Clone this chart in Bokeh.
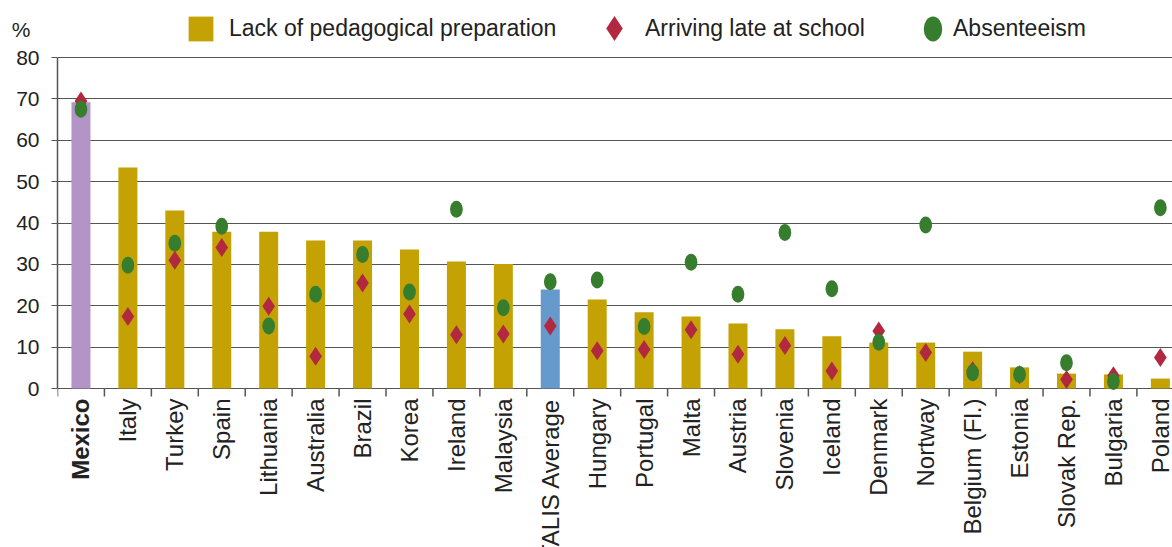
from bokeh.plotting import figure
from bokeh.models import (ColumnDataSource, Range1d, FixedTicker, LinearAxis,
                          Legend, LegendItem)
from bokeh.core.properties import value
from bokeh.embed import file_html
from bokeh.resources import INLINE

countries = ["Mexico", "Italy", "Turkey", "Spain", "Lithuania", "Australia", "Brazil",
             "Korea", "Ireland", "Malaysia", "TALIS Average", "Hungary", "Portugal",
             "Malta", "Austria", "Slovenia", "Iceland", "Denmark", "Nortway",
             "Belgium (Fl.)", "Estonia", "Slovak Rep.", "Bulgaria", "Poland"]
lack_prep = [69.2, 53.4, 43.0, 37.9, 37.9, 35.8, 35.8, 33.6, 30.7, 30.1, 23.9, 21.5,
             18.4, 17.4, 15.7, 14.3, 12.6, 11.1, 11.1, 8.9, 5.1, 3.6, 3.4, 2.4]
arriving_late = [69.5, 17.4, 31.0, 34.1, 19.9, 7.8, 25.5, 18.0, 13.0, 13.2, 15.1, 9.1,
                 9.4, 14.2, 8.3, 10.4, 4.2, 13.9, 8.7, 4.3, 3.3, 2.2, 3.1, 7.5]
absenteeism = [67.5, 29.8, 35.1, 39.2, 15.1, 22.8, 32.4, 23.3, 43.3, 19.5, 25.8, 26.2,
               15.0, 30.5, 22.8, 37.7, 24.1, 11.2, 39.5, 3.8, 3.4, 6.2, 1.7, 43.7]
y_ticks = [0, 10, 20, 30, 40, 50, 60, 70, 80]
unit_label = "%"

GOLD = "#C4A204"
PURPLE = "#B294C6"
BLUE = "#6699CC"
RED = "#B2283F"
GREEN = "#367D2E"
TEXT = "#222222"
AXIS = "#555555"
FONT = "Liberation Sans"

# layout (pixels)
W, H = 1172, 547
LEFT, TOP, BOTTOM = 57, 57, 388
STEP = 46.93
ppu = (BOTTOM - TOP) / (y_ticks[-1] - y_ticks[0])

n = len(countries)
idx = list(range(n))
colors = [PURPLE if c == "Mexico" else BLUE if c == "TALIS Average" else GOLD for c in countries]
styles = ["bold" if c == "Mexico" else "normal" for c in countries]
src = ColumnDataSource(dict(x=idx, name=countries, prep=lack_prep, late=arriving_late,
                            absent=absenteeism, color=colors, style=styles))

x0 = -0.5
x1 = x0 + (W - LEFT) / STEP
y0 = y_ticks[0] - (H - BOTTOM) / ppu
y1 = y_ticks[-1] + TOP / ppu

p = figure(width=W, height=H, x_range=Range1d(x0, x1), y_range=Range1d(y0, y1),
           output_backend="svg", toolbar_location=None, x_axis_location=None,
           min_border_left=LEFT, min_border_right=0, min_border_top=0, min_border_bottom=0)
p.outline_line_color = None
p.xgrid.visible = False
p.ygrid.ticker = FixedTicker(ticks=y_ticks)
p.ygrid.grid_line_color = AXIS
p.ygrid.grid_line_width = 1.2

ya = p.yaxis[0]
ya.ticker = FixedTicker(ticks=y_ticks)
ya.bounds = (y_ticks[0], y_ticks[-1])
ya.major_tick_out = 6
ya.major_tick_in = 0
ya.minor_tick_line_color = None
ya.axis_line_color = AXIS
ya.axis_line_width = 1.5
ya.major_tick_line_color = AXIS
ya.major_label_text_font = FONT
ya.major_label_text_font_size = "21px"
ya.major_label_text_color = TEXT
ya.major_label_standoff = 12

# unit label "%" as a second left axis with a single labelled tick
pct_y = y_ticks[-1] + 28 / ppu
unit_axis = LinearAxis(ticker=FixedTicker(ticks=[pct_y]),
                       major_label_overrides={pct_y: unit_label},
                       axis_line_color=None, major_tick_line_color=None,
                       minor_tick_line_color=None, major_label_standoff=-23,
                       major_label_text_font=FONT, major_label_text_font_size="21px",
                       major_label_text_color=TEXT)
p.add_layout(unit_axis, "left")

# category boundary ticks below the baseline
bounds_x = [i - 0.5 for i in range(n + 1)]
p.segment(x0=bounds_x, x1=bounds_x, y0=[0] * len(bounds_x),
          y1=[-8 / ppu] * len(bounds_x), line_color=AXIS, line_width=1.5)

bars = p.vbar(x="x", top="prep", width=0.405, source=src, fill_color="color", line_color=None)
dia = p.scatter(x="x", y="late", source=src, marker="diamond", size=19,
                fill_color=RED, line_color=None)
ell = p.ellipse(x="x", y="absent", width=12.7, height=17, width_units="screen",
                height_units="screen", source=src, fill_color=GREEN, line_color=None)

p.text(x="x", y=-10 / ppu, text="name", source=src, angle=1.5707963,
       text_align="right", text_baseline="middle", text_font=value(FONT),
       text_font_size="24px", text_color=TEXT, text_font_style="style")


def make_legend(item, loc, glyph, standoff):
    lg = Legend(items=[item], location=loc, glyph_width=glyph, glyph_height=glyph,
                label_standoff=standoff, padding=0, margin=0, spacing=0,
                background_fill_alpha=0, border_line_alpha=0,
                label_text_font=FONT, label_text_font_size="23px", label_text_color=TEXT)
    p.add_layout(lg, "center")


make_legend(LegendItem(label="Lack of pedagogical preparation", renderers=[bars], index=1),
            (128, H - 44), 31, 13)
make_legend(LegendItem(label="Arriving late at school", renderers=[dia], index=0),
            (526, H - 59), 62, -12)
make_legend(LegendItem(label="Absenteeism", renderers=[ell], index=0),
            (860, H - 44), 31, 5)

open("out.html", "w").write(file_html(p, INLINE))
